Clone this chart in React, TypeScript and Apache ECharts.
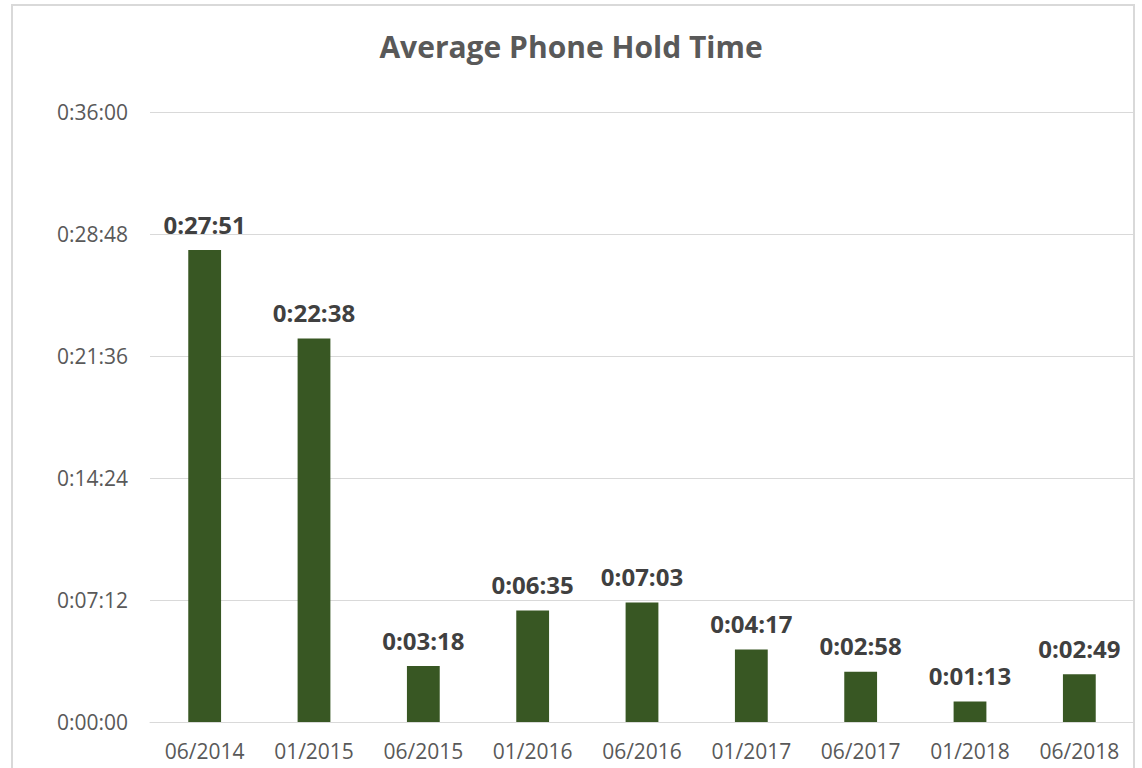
import React, { useEffect, useRef } from "react";
import * as echarts from "echarts";

const categories = ["06/2014", "01/2015", "06/2015", "01/2016", "06/2016", "01/2017", "06/2017", "01/2018", "06/2018"];
// hold times in seconds
const holdSeconds = [1671, 1358, 198, 395, 423, 257, 178, 73, 169];

const fmt = (s: number) => {
  const h = Math.floor(s / 3600);
  const m = Math.floor((s % 3600) / 60);
  const sec = Math.round(s % 60);
  return `${h}:${String(m).padStart(2, "0")}:${String(sec).padStart(2, "0")}`;
};

const FONT = "'Open Sans', 'Noto Sans', sans-serif";

export default function App() {
  const ref = useRef<HTMLDivElement>(null);
  useEffect(() => {
    const chart = echarts.init(ref.current!, null, { renderer: "svg" });
    chart.setOption({
      animation: false,
      backgroundColor: "#ffffff",
      title: {
        text: "Average Phone Hold Time",
        left: "center",
        top: 26,
        textStyle: { fontFamily: FONT, fontSize: 30, fontWeight: "bold", color: "#595959" },
      },
      graphic: [
        {
          type: "rect",
          shape: { x: 12, y: 5, width: 1122, height: 800 },
          style: { fill: "none", stroke: "#d9d9d9", lineWidth: 2 },
          silent: true,
        },
      ],
      grid: { left: 150, right: 8, top: 112, bottom: 46 },
      xAxis: {
        type: "category",
        data: categories,
        axisLine: { show: true, lineStyle: { color: "#d9d9d9", width: 1 } },
        axisTick: { show: false },
        axisLabel: { fontFamily: FONT, fontSize: 21, color: "#595959", margin: 18 },
      },
      yAxis: {
        type: "value",
        min: 0,
        max: 2160,
        interval: 432,
        axisLine: { show: false },
        axisTick: { show: false },
        splitLine: { lineStyle: { color: "#d9d9d9", width: 1 } },
        axisLabel: { fontFamily: FONT, fontSize: 21, color: "#595959", margin: 22, formatter: (v: number) => fmt(v) },
      },
      series: [
        {
          type: "bar",
          data: holdSeconds,
          barWidth: "30%",
          itemStyle: { color: "#385723" },
          label: {
            show: true,
            position: "top",
            distance: 14,
            fontFamily: FONT,
            fontSize: 24,
            fontWeight: "bold",
            color: "#404040",
            formatter: (p: any) => fmt(p.value),
          },
        },
      ],
    });
    return () => chart.dispose();
  }, []);
  return <div ref={ref} style={{ position: "fixed", left: 0, top: 0, width: 1142, height: 768 }} />;
}
